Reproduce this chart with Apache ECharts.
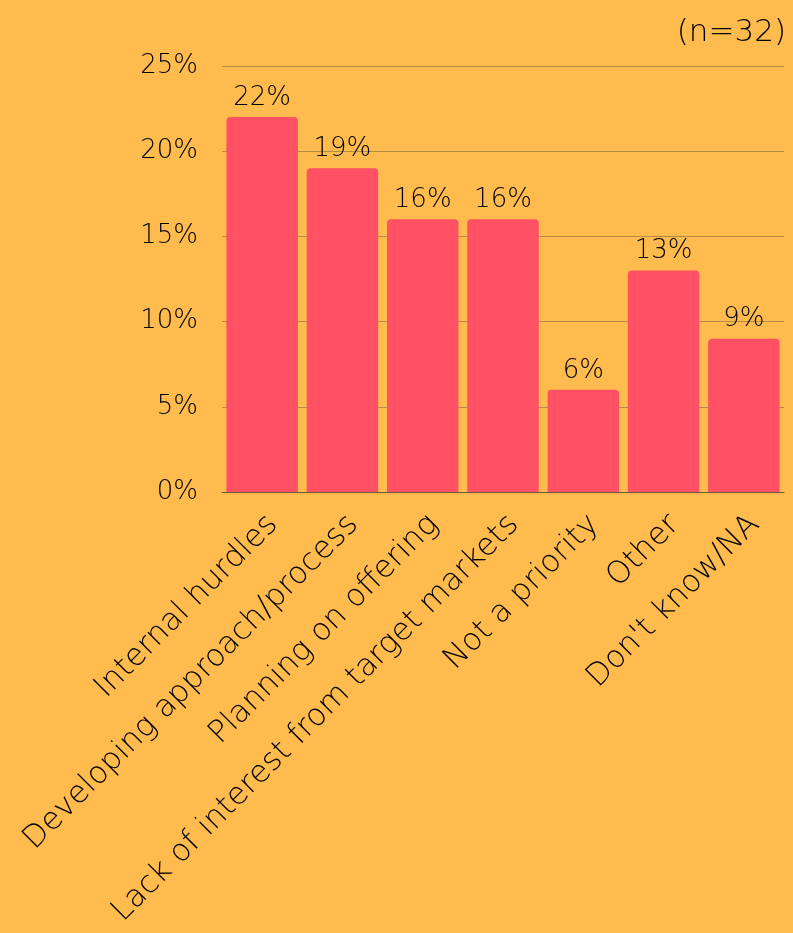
<!DOCTYPE html>
<html><head><meta charset="utf-8">
<script src="https://cdn.jsdelivr.net/npm/echarts@6/dist/echarts.min.js"></script>
<style>html,body{margin:0;padding:0;background:#FFBB4E;}#c{width:793px;height:933px;}</style>
</head><body><div id="c"></div>
<script>
const categories = ["Internal hurdles","Developing approach/process","Planning on offering","Lack of interest from target markets","Not a priority","Other","Don't know/NA"];
const values = [22,19,16,16,6,13,9];
const yTicks = [0,5,10,15,20,25];
const note = "(n=32)";
const FONT = "'DejaVu Sans ExtraLight','DejaVu Sans Light','DejaVu Sans',sans-serif";
const chart = echarts.init(document.getElementById('c'));
chart.setOption({
  backgroundColor:'#FFBB4E',
  textStyle:{fontFamily:FONT},
  title:{text:note,right:2,top:12,textStyle:{fontFamily:FONT,fontSize:31,fontWeight:'normal',color:'#000'}},
  grid:{left:222,right:9,top:66,bottom:441},
  xAxis:{type:'category',data:categories,
    axisLine:{lineStyle:{color:'#6b5a3a',width:1}},axisTick:{show:false},
    axisLabel:{rotate:45,fontSize:31,color:'#000',fontFamily:FONT,margin:17,interval:0,verticalAlign:'top'}},
  yAxis:{type:'value',min:yTicks[0],max:yTicks[yTicks.length-1],interval:5,
    axisLine:{show:false},axisTick:{show:false},
    splitLine:{lineStyle:{color:'#B38B45',width:1}},
    axisLabel:{formatter:'{value}%',fontSize:26,color:'#000',fontFamily:FONT,margin:24}},
  series:[{type:'bar',data:values,barCategoryGap:'11%',
    itemStyle:{color:'#FF5064',borderRadius:[4,4,0,0]},
    label:{show:true,position:'top',formatter:'{c}%',fontSize:26,color:'#000',fontFamily:FONT,distance:6}}]
});
</script></body></html>
